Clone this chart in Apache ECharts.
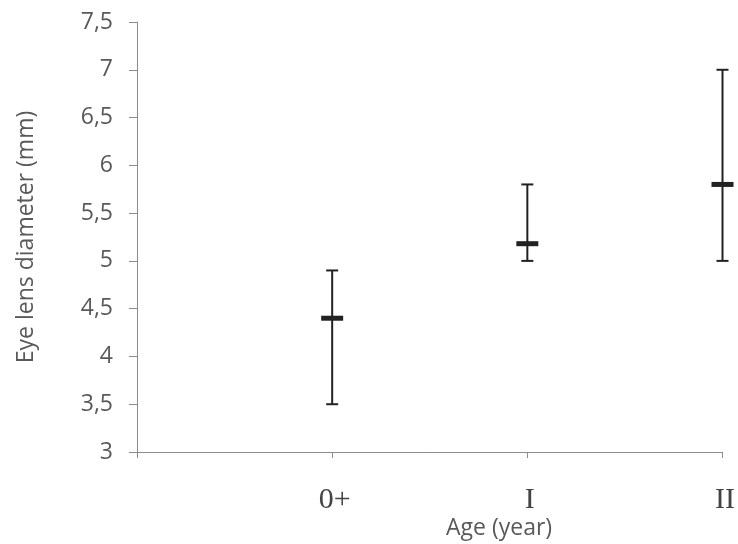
<!DOCTYPE html>
<html>
<head>
<meta charset="utf-8">
<script src="https://cdn.jsdelivr.net/npm/echarts@6/dist/echarts.min.js"></script>
<style>
  html, body { margin: 0; padding: 0; background: #fff; }
  #chart { width: 738px; height: 544px; }
</style>
</head>
<body>
<div id="chart"></div>
<script>
// age classes, first slot is the empty start of the axis
var categories = ['', '0+', 'I', 'II'];
// eye lens diameter (mm) per age class
var minVals = [3.5, 5.0, 5.0];
var maxVals = [4.9, 5.8, 7.0];
var meanVals = [4.4, 5.18, 5.8];

var chart = echarts.init(document.getElementById('chart'));

var barData = [];
for (var i = 0; i < minVals.length; i++) {
  barData.push([i + 1, minVals[i], maxVals[i], meanVals[i]]);
}

function renderBar(params, api) {
  var x = api.value(0);
  var lo = api.coord([x, api.value(1)]);
  var hi = api.coord([x, api.value(2)]);
  var mid = api.coord([x, api.value(3)]);
  var line = { stroke: '#222', lineWidth: 2 };
  return {
    type: 'group',
    children: [
      { type: 'line', shape: { x1: hi[0], y1: hi[1], x2: lo[0], y2: lo[1] }, style: line },
      { type: 'line', shape: { x1: hi[0] - 6, y1: hi[1], x2: hi[0] + 6, y2: hi[1] }, style: line },
      { type: 'line', shape: { x1: lo[0] - 6, y1: lo[1], x2: lo[0] + 6, y2: lo[1] }, style: line },
      { type: 'rect', shape: { x: mid[0] - 11, y: mid[1] - 2.5, width: 22, height: 5 }, style: { fill: '#222' } }
    ]
  };
}

chart.setOption({
  animation: false,
  grid: { left: 137, top: 22, right: 11, bottom: 92 },
  xAxis: {
    type: 'category',
    data: categories,
    boundaryGap: false,
    axisLine: { lineStyle: { color: '#8c8c8c', width: 1 } },
    axisTick: { length: 6, lineStyle: { color: '#8c8c8c' } },
    axisLabel: {
      margin: 33,
      fontFamily: 'Liberation Serif',
      fontSize: 30,
      color: '#444',
      padding: [0, 0, 0, 5]
    }
  },
  yAxis: {
    type: 'value',
    min: 3,
    max: 7.5,
    interval: 0.5,
    splitLine: { show: false },
    axisLine: { show: true, lineStyle: { color: '#8c8c8c', width: 1 } },
    axisTick: { show: true, length: 8, lineStyle: { color: '#8c8c8c' } },
    axisLabel: {
      margin: 24,
      fontFamily: 'Open Sans',
      fontSize: 23,
      color: '#595959',
      formatter: function (v) { return String(v).replace('.', ','); }
    },
    name: 'Eye lens diameter (mm)',
    nameLocation: 'middle',
    nameGap: 99,
    nameTextStyle: { fontFamily: 'Open Sans', fontSize: 23, color: '#595959' }
  },
  graphic: [{
    type: 'text',
    left: 446,
    top: 517,
    style: { text: 'Age (year)', font: '23px "Open Sans"', fill: '#595959' }
  }],
  series: [{
    type: 'custom',
    renderItem: renderBar,
    data: barData,
    encode: { x: 0, y: [1, 2, 3] }
  }]
});
</script>
</body>
</html>
